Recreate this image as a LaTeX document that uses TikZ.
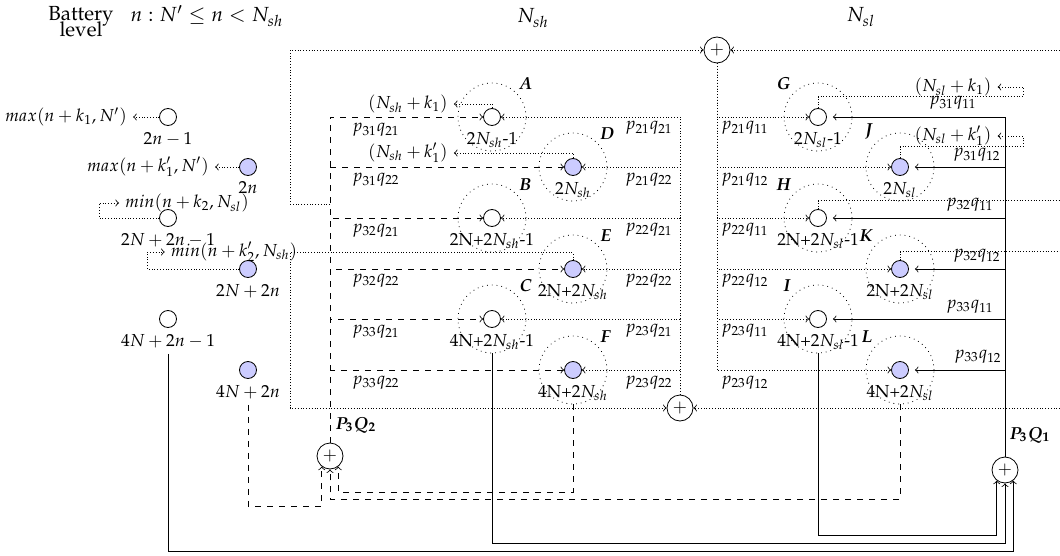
\documentclass[tikz,border=0pt]{standalone}
\usepackage[T1]{fontenc}
\usepackage{mathpazo}
\usetikzlibrary{positioning}
\tikzset{
    st/.style = {draw, circle, minimum size=8.5pt, inner sep=0pt},
    stfull/.style = {st, fill=blue!20},
    ring/.style = {draw, dotted, circle, minimum size=34pt, inner sep=0pt},
    adder/.style = {draw, circle, minimum size=13pt, inner sep=0pt},
    head/.style = {font=\fontsize{10.2}{11}\selectfont},
    tag/.style = {font=\bfseries\itshape, label distance=-2pt},
    pflow/.style = {densely dotted, ->},
    qflow/.style = {dashed, ->},
    rflow/.style = {->}
}

\begin{document}
\fontsize{8.7}{10}\selectfont
\begin{tikzpicture}[x=0.5pt, y=-0.5pt]
    \useasboundingbox (0,0) rectangle (1060,556);

    % headings
    \node[head, align=center] (bat) at (81,22) {Battery\\[-3pt]level};
    \node[head] (rng) at (207,16) {$n: N' \leq n < N_{sh}$};
    \node[head] (hsh) at (533,18) {$N_{sh}$};
    \node[head] (hsl) at (861,17) {$N_{sl}$};

    % adders
    \node[adder] (top) at (717,50) {$+$};
    \node[adder] (bot) at (680,408) {$+$};
    \node[adder] (pq2) at (330,456) {$+$};
    \node[adder] (pq1) at (1005,470) {$+$};
    \node[font=\boldmath] (lq2) at (356,425) {$P_3Q_2$};
    \node[font=\boldmath] (lq1) at (1030,435) {$P_3Q_1$};

    % battery levels below N'
    \node[st,     label=below:{$2n-1$}]   (s1) at (168,117) {};
    \node[stfull, label=below:{$2n$}]     (s2) at (248,167) {};
    \node[st,     label=below:{$2N+2n-1$}] (s3) at (168,218) {};
    \node[stfull, label=below:{$2N+2n$}]  (s4) at (248,269) {};
    \node[st,     label=below:{$4N+2n-1$}] (s5) at (168,319) {};
    \node[stfull, label=below:{$4N+2n$}]  (s6) at (248,370) {};

    % N_sh block
    \node[st,     label=below:{2$N_{sh}$-1}]    (A) at (492,117) {};
    \node[stfull, label=below:{2$N_{sh}$}]      (D) at (573,167) {};
    \node[st,     label=below:{2N+2$N_{sh}$-1}] (B) at (492,218) {};
    \node[stfull, label=below:{2N+2$N_{sh}$}]   (E) at (573,269) {};
    \node[st,     label=below:{4N+2$N_{sh}$-1}] (C) at (492,319) {};
    \node[stfull, label=below:{4N+2$N_{sh}$}]   (F) at (573,370) {};

    % N_sl block
    \node[st,     label=below:{2$N_{sl}$-1}]    (G) at (818,117) {};
    \node[stfull, label=below:{2$N_{sl}$}]      (J) at (900,167) {};
    \node[st,     label=below:{2N+2$N_{sl}$-1}] (H) at (818,218) {};
    \node[stfull, label=below:{2N+2$N_{sl}$}]   (K) at (900,269) {};
    \node[st,     label=below:{4N+2$N_{sl}$-1}] (I) at (818,319) {};
    \node[stfull, label=below:{4N+2$N_{sl}$}]   (L) at (900,370) {};

    \foreach \n in {A,D,B,E,C,F}
        \node[ring, label={[tag]45:\n}] (r\n) at (\n) {};
    \foreach \n in {G,J,H,K,I,L}
        \node[ring, label={[tag]135:\n}] (r\n) at (\n) {};

    % jump targets
    \node[left=13pt of s1] (t1) {$max(n+k_1,N')$};
    \node[left=12pt of s2] (t2) {$max(n+k'_1,N')$};
    \node (t3) at (187,203) {$min(n+k_2,N_{sl})$};
    \node (t4) at (234,252) {$min(n+k'_2,N_{sh})$};
    \node (tA) at (408,104) {$(N_{sh}+k_1)$};
    \node (tD) at (408,153) {$(N_{sh}+k'_1)$};
    \node (tG) at (953,87) {$(N_{sl}+k_1)$};
    \node (tJ) at (953,136) {$(N_{sl}+k'_1)$};

    % transition probabilities
    \foreach \y/\a/\b in {130/31/21,180/31/22,231/32/21,281/32/22,332/33/21,383/33/22}
        \node (pa\a\b) at (376,\y) {$p_{\a}q_{\b}$};
    \foreach \y/\a/\b in {128/21/21,180/21/22,230/22/21,281/22/22,331/23/21,383/23/22}
        \node (pb\a\b) at (649,\y) {$p_{\a}q_{\b}$};
    \foreach \y/\a/\b in {128/21/11,180/21/12,230/22/11,281/22/12,331/23/11,383/23/12}
        \node (pc\a\b) at (745,\y) {$p_{\a}q_{\b}$};
    \foreach \x/\y/\a/\b in {953/103/31/11,977/155/31/12,970/205/32/11,977/256/32/12,970/307/33/11,978/357/33/12}
        \node (pd\a\b) at (\x,\y) {$p_{\a}q_{\b}$};

    % P3Q2 feeds the N_sh block
    \foreach \n in {A,D,B,E,C,F}
        \draw[qflow] (pq2.north) |- (\n);
    % N_sh block collects into the lower adder
    \foreach \n in {A,D,B,E,C,F}
        \draw[pflow] (bot.north) |- (\n);
    % upper adder feeds the N_sl block
    \foreach \n in {G,J,H,K,I,L}
        \draw[pflow] (top.south) |- (\n);
    % P3Q1 feeds the N_sl block
    \foreach \n in {G,J,H,K,I,L}
        \draw[rflow, shorten >=3pt] (pq1.north) |- (\n);

    % jumps out of the levels
    \draw[pflow] (s1) -- (t1);
    \draw[pflow] (s2) -- (t2);
    \draw[pflow] (s3.west) -- ++(-60,0) |- (t3);
    \draw[pflow] (s4.west) -- ++(-92,0) |- (t4);
    \draw[pflow] (A.north) |- (tA);
    \draw[pflow] (D.north) |- (tD);
    \draw[pflow] (G.north) |- ++(205,-11.5) |- (tG);
    \draw[pflow] (J.north) |- ++(123,-11.5) |- (tJ);
    \draw[densely dotted] (H.north) |- ++(242,-8.5);
    \draw[densely dotted] (K.north) |- ++(160,-8.5);

    % adder inputs
    \coordinate (topin) at (1060,50);
    \coordinate (botin) at (1060,408);
    \coordinate (wq) at (330,204);
    \draw[pflow] (topin) -- (top);
    \draw[pflow] (wq) -- ++(-40,0) |- (top);
    \draw[pflow] (botin) -- (bot);
    \draw[pflow] (E.north) |- ++(-283,-7.5) |- (bot);

    % returns into P3Q1
    \draw[rflow] (rI.south) -- ++(0,182) -| (pq1.-128);
    \draw[rflow] (rC.south) -- ++(0,190) -| (pq1.south);
    \draw[rflow] ([yshift=-13pt]s5.south) -- ++(0,197) -| (pq1.-52);

    % returns into P3Q2
    \draw[qflow] (rF.south) -- ++(0,88) -| (pq2.-52);
    \draw[qflow] (rL.south) -- ++(0,95) -| (pq2.south);
    \draw[qflow] ([yshift=-13pt]s6.south) -- ++(0,101) -| (pq2.-128);
\end{tikzpicture}
\end{document}
